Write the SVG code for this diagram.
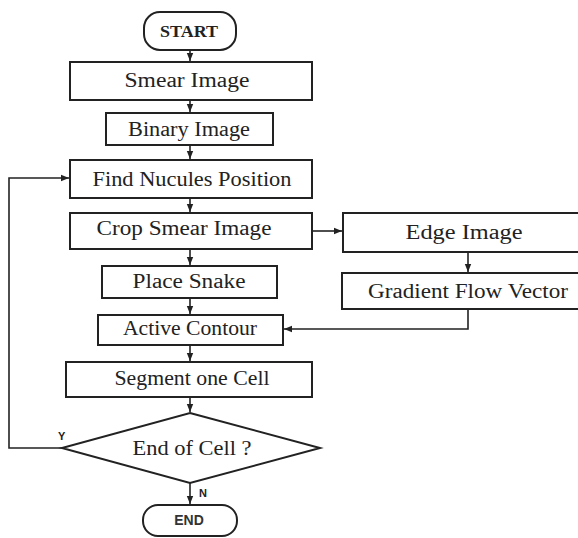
<svg xmlns="http://www.w3.org/2000/svg" width="578" height="538" viewBox="0 0 578 538">
<style>
.b{fill:#fff;stroke:#222;stroke-width:2}
.t{font-family:"Liberation Serif",serif;font-size:20px;fill:#222;text-anchor:middle;dominant-baseline:central}
.c{fill:none;stroke:#222;stroke-width:1.6}
.s{font-family:"Liberation Serif",serif;font-size:16px;font-weight:bold;fill:#222;text-anchor:middle;dominant-baseline:central}
.e{font-family:"Liberation Sans",sans-serif;font-size:14px;font-weight:bold;fill:#333;text-anchor:middle;dominant-baseline:central}
.l{font-family:"Liberation Sans",sans-serif;font-size:11px;font-weight:bold;fill:#222}
</style>
<defs>
<marker id="a" viewBox="0 0 10 10" refX="10" refY="5" markerWidth="5" markerHeight="5" orient="auto"><path d="M0,1 L10,5 L0,9 z" fill="#222"/></marker>
</defs>
<rect width="578" height="538" fill="#fff"/>
<g id="connectors">
<line class="c" x1="190" y1="50" x2="190" y2="61" marker-end="url(#a)"/>
<line class="c" x1="190" y1="100" x2="190" y2="112" marker-end="url(#a)"/>
<line class="c" x1="190" y1="145" x2="190" y2="159" marker-end="url(#a)"/>
<line class="c" x1="190" y1="198" x2="190" y2="212" marker-end="url(#a)"/>
<line class="c" x1="190" y1="249" x2="190" y2="265" marker-end="url(#a)"/>
<line class="c" x1="190" y1="298" x2="190" y2="314" marker-end="url(#a)"/>
<line class="c" x1="190" y1="345" x2="190" y2="361" marker-end="url(#a)"/>
<line class="c" x1="190" y1="397" x2="190" y2="412" marker-end="url(#a)"/>
<line class="c" x1="190" y1="483" x2="190" y2="504" marker-end="url(#a)"/>
<line class="c" x1="312" y1="231" x2="342" y2="231" marker-end="url(#a)"/>
<line class="c" x1="468" y1="252" x2="468" y2="272" marker-end="url(#a)"/>
<polyline class="c" points="468,309 468,329 284,329" marker-end="url(#a)"/>
<polyline class="c" points="62,448 9,448 9,178 69,178" marker-end="url(#a)"/>
<text class="l" x="58" y="440">Y</text>
<text class="l" x="199" y="497">N</text>
</g>
<g id="start"><rect class="b" x="144" y="12" width="92" height="38" rx="16"/><text class="s" x="189" y="31" textLength="58" lengthAdjust="spacingAndGlyphs">START</text></g>
<g id="smear"><rect class="b" x="70" y="62" width="242" height="38"/><text class="t" x="187" y="80" textLength="125" lengthAdjust="spacingAndGlyphs">Smear  Image</text></g>
<g id="binary"><rect class="b" x="106" y="113" width="167" height="32"/><text class="t" x="189" y="129" textLength="122" lengthAdjust="spacingAndGlyphs">Binary Image</text></g>
<g id="find"><rect class="b" x="70" y="160" width="242" height="38"/><text class="t" x="192" y="179" textLength="199" lengthAdjust="spacingAndGlyphs">Find Nucules Position</text></g>
<g id="crop"><rect class="b" x="70" y="213" width="242" height="36"/><text class="t" x="184" y="228" textLength="175" lengthAdjust="spacingAndGlyphs">Crop Smear Image</text></g>
<g id="snake"><rect class="b" x="102" y="266" width="175" height="32"/><text class="t" x="189" y="281" textLength="113" lengthAdjust="spacingAndGlyphs">Place Snake</text></g>
<g id="active"><rect class="b" x="98" y="315" width="185" height="30"/><text class="t" x="190" y="328" textLength="134" lengthAdjust="spacingAndGlyphs">Active Contour</text></g>
<g id="segment"><rect class="b" x="66" y="362" width="246" height="35"/><text class="t" x="192" y="378" textLength="155" lengthAdjust="spacingAndGlyphs">Segment one Cell</text></g>
<g id="decision"><polygon class="b" points="190,413 320,448 190,483 62,448"/><text class="t" x="192" y="448" textLength="119" lengthAdjust="spacingAndGlyphs">End of Cell ?</text></g>
<g id="end"><rect class="b" x="143" y="505" width="94" height="31" rx="15"/><text class="e" x="189" y="520">END</text></g>
<g id="edge"><rect class="b" x="343" y="213" width="240" height="39"/><text class="t" x="464" y="232" textLength="117" lengthAdjust="spacingAndGlyphs">Edge Image</text></g>
<g id="gfv"><rect class="b" x="342" y="273" width="240" height="36"/><text class="t" x="468" y="291" textLength="200" lengthAdjust="spacingAndGlyphs">Gradient Flow Vector</text></g>
</svg>
